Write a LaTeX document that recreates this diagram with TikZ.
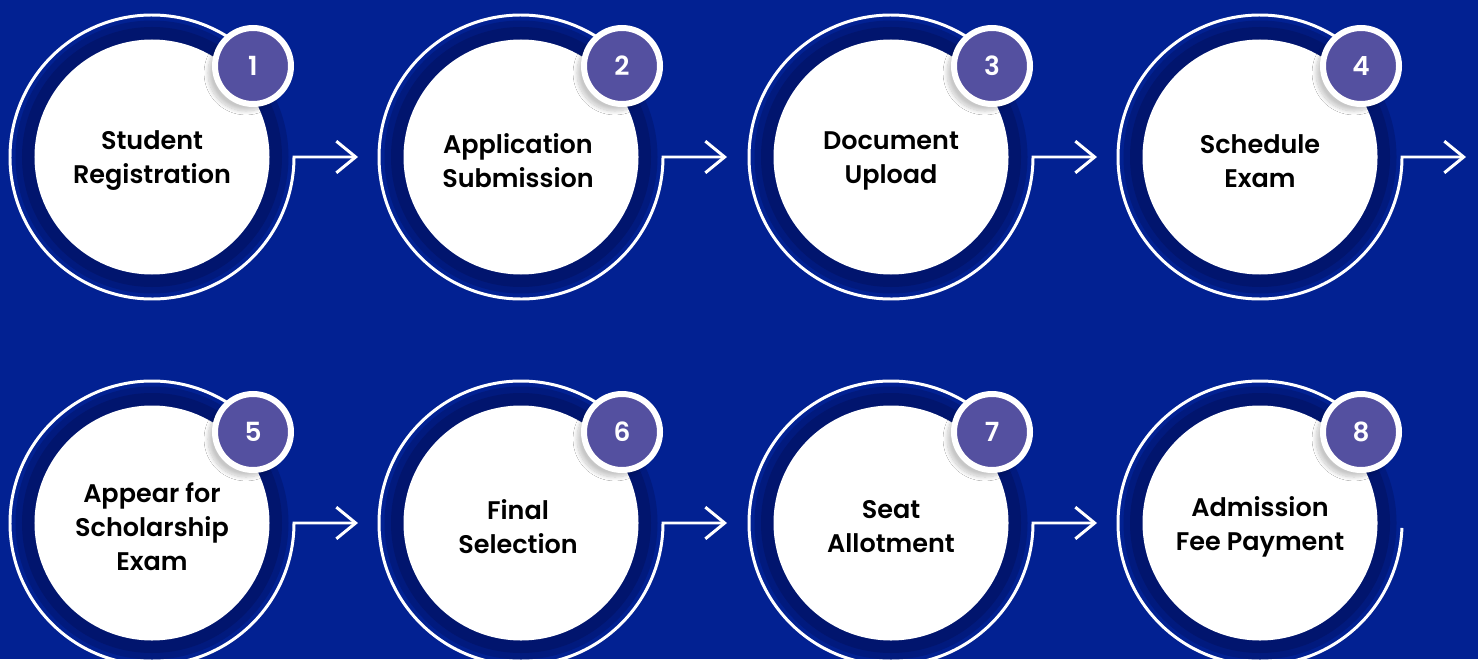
\documentclass[tikz,border=0pt]{standalone}
\usepackage{fontspec}
\setmainfont{Poppins}[BoldFont={Poppins SemiBold}]
\usetikzlibrary{arrows.meta,calc,shadows.blur}

\definecolor{bgblue}{RGB}{2,33,146}
\definecolor{bandblue}{RGB}{1,21,110}
\colorlet{bandfade}{bandblue!55!bgblue}
\definecolor{badgepurple}{RGB}{84,80,160}

\tikzset{
	band/.style={circle, fill=bandfade, minimum size=5.46cm, inner sep=0pt,
		path picture={\fill[bandblue] (path picture bounding box.center) circle(2.6);
			\fill[white] (path picture bounding box.center) circle(2.35);}},
	steptext/.style={align=center, inner sep=0pt, font=\fontsize{14.5}{19.3}\selectfont\bfseries},
	numbadge/.style={circle, fill=badgepurple, draw=white, line width=0.12cm, minimum size=1.52cm,
		inner sep=0pt, text=white, font=\fontsize{15}{18}\selectfont\bfseries,
		blur shadow={shadow xshift=-4pt, shadow yshift=-4pt, shadow opacity=22, shadow blur steps=12}},
	ring/.style={white, line width=1.7pt},
	flow/.style={ring, -{Straight Barb[length=11pt,width=18pt]}}
}

\begin{document}
\begin{tikzpicture}
		\useasboundingbox (0,0) rectangle (29.56,13.18);
		\fill[bgblue] (0,0) rectangle (29.56,13.18);
		
		% top row
		\node[band] (r1) at (3.04,10.04) {};
		\node[band] (r2) at (10.42,10.04) {};
		\node[band] (r3) at (17.82,10.04) {};
		\node[band] (r4) at (25.20,10.04) {};
		\node[steptext] (s1) at ($(r1)+(0,-0.08)$) {Student\\Registration};
		\node[steptext] (s2) at ($(r2)+(-0.06,-0.08)$) {Application\\Submission};
		\node[steptext] (s3) at ($(r3)+(0,-0.08)$) {Document\\Upload};
		\node[steptext] (s4) at ($(r4)+(0,-0.08)$) {Schedule\\Exam};
		
		% bottom row
		\node[band] (r5) at (3.04,2.72) {};
		\node[band] (r6) at (10.42,2.72) {};
		\node[band] (r7) at (17.82,2.72) {};
		\node[band] (r8) at (25.20,2.72) {};
		\node[steptext] (s5) at ($(r5)+(0,-0.08)$) {Appear for\\Scholarship\\Exam};
		\node[steptext] (s6) at ($(r6)+(-0.06,-0.08)$) {Final\\Selection};
		\node[steptext] (s7) at ($(r7)+(0,-0.08)$) {Seat\\Allotment};
		\node[steptext] (s8) at ($(r8)+(0,-0.08)$) {Admission\\Fee Payment};
		
		\coordinate (a1) at (7.16,10.04);
		\coordinate (a2) at (14.54,10.04);
		\coordinate (a3) at (21.94,10.04);
		\coordinate (a4) at (29.32,10.04);
		\coordinate (a5) at (7.16,2.72);
		\coordinate (a6) at (14.54,2.72);
		\coordinate (a7) at (21.94,2.72);
		
		% rings and arrows
		\draw[flow] (r1.center) ++(40:2.84) arc(40:360:2.84) -- (a1);
		\draw[flow] (r2.center) ++(40:2.84) arc(40:360:2.84) -- (a2);
		\draw[flow] (r3.center) ++(40:2.84) arc(40:360:2.84) -- (a3);
		\draw[flow] (r4.center) ++(40:2.84) arc(40:360:2.84) -- (a4);
		\draw[flow] (r5.center) ++(40:2.84) arc(40:360:2.84) -- (a5);
		\draw[flow] (r6.center) ++(40:2.84) arc(40:360:2.84) -- (a6);
		\draw[flow] (r7.center) ++(40:2.84) arc(40:360:2.84) -- (a7);
		\draw[ring] (r8.center) ++(40:2.84) arc(40:358:2.84);
		
		% number badges
		\node[numbadge] (b1) at ($(r1.center)+(2.02,1.82)$) {1};
		\node[numbadge] (b2) at ($(r2.center)+(2.02,1.82)$) {2};
		\node[numbadge] (b3) at ($(r3.center)+(2.02,1.82)$) {3};
		\node[numbadge] (b4) at ($(r4.center)+(2.02,1.82)$) {4};
		\node[numbadge] (b5) at ($(r5.center)+(2.02,1.82)$) {5};
		\node[numbadge] (b6) at ($(r6.center)+(2.02,1.82)$) {6};
		\node[numbadge] (b7) at ($(r7.center)+(2.02,1.82)$) {7};
		\node[numbadge] (b8) at ($(r8.center)+(2.02,1.82)$) {8};
	\end{tikzpicture}
\end{document}
